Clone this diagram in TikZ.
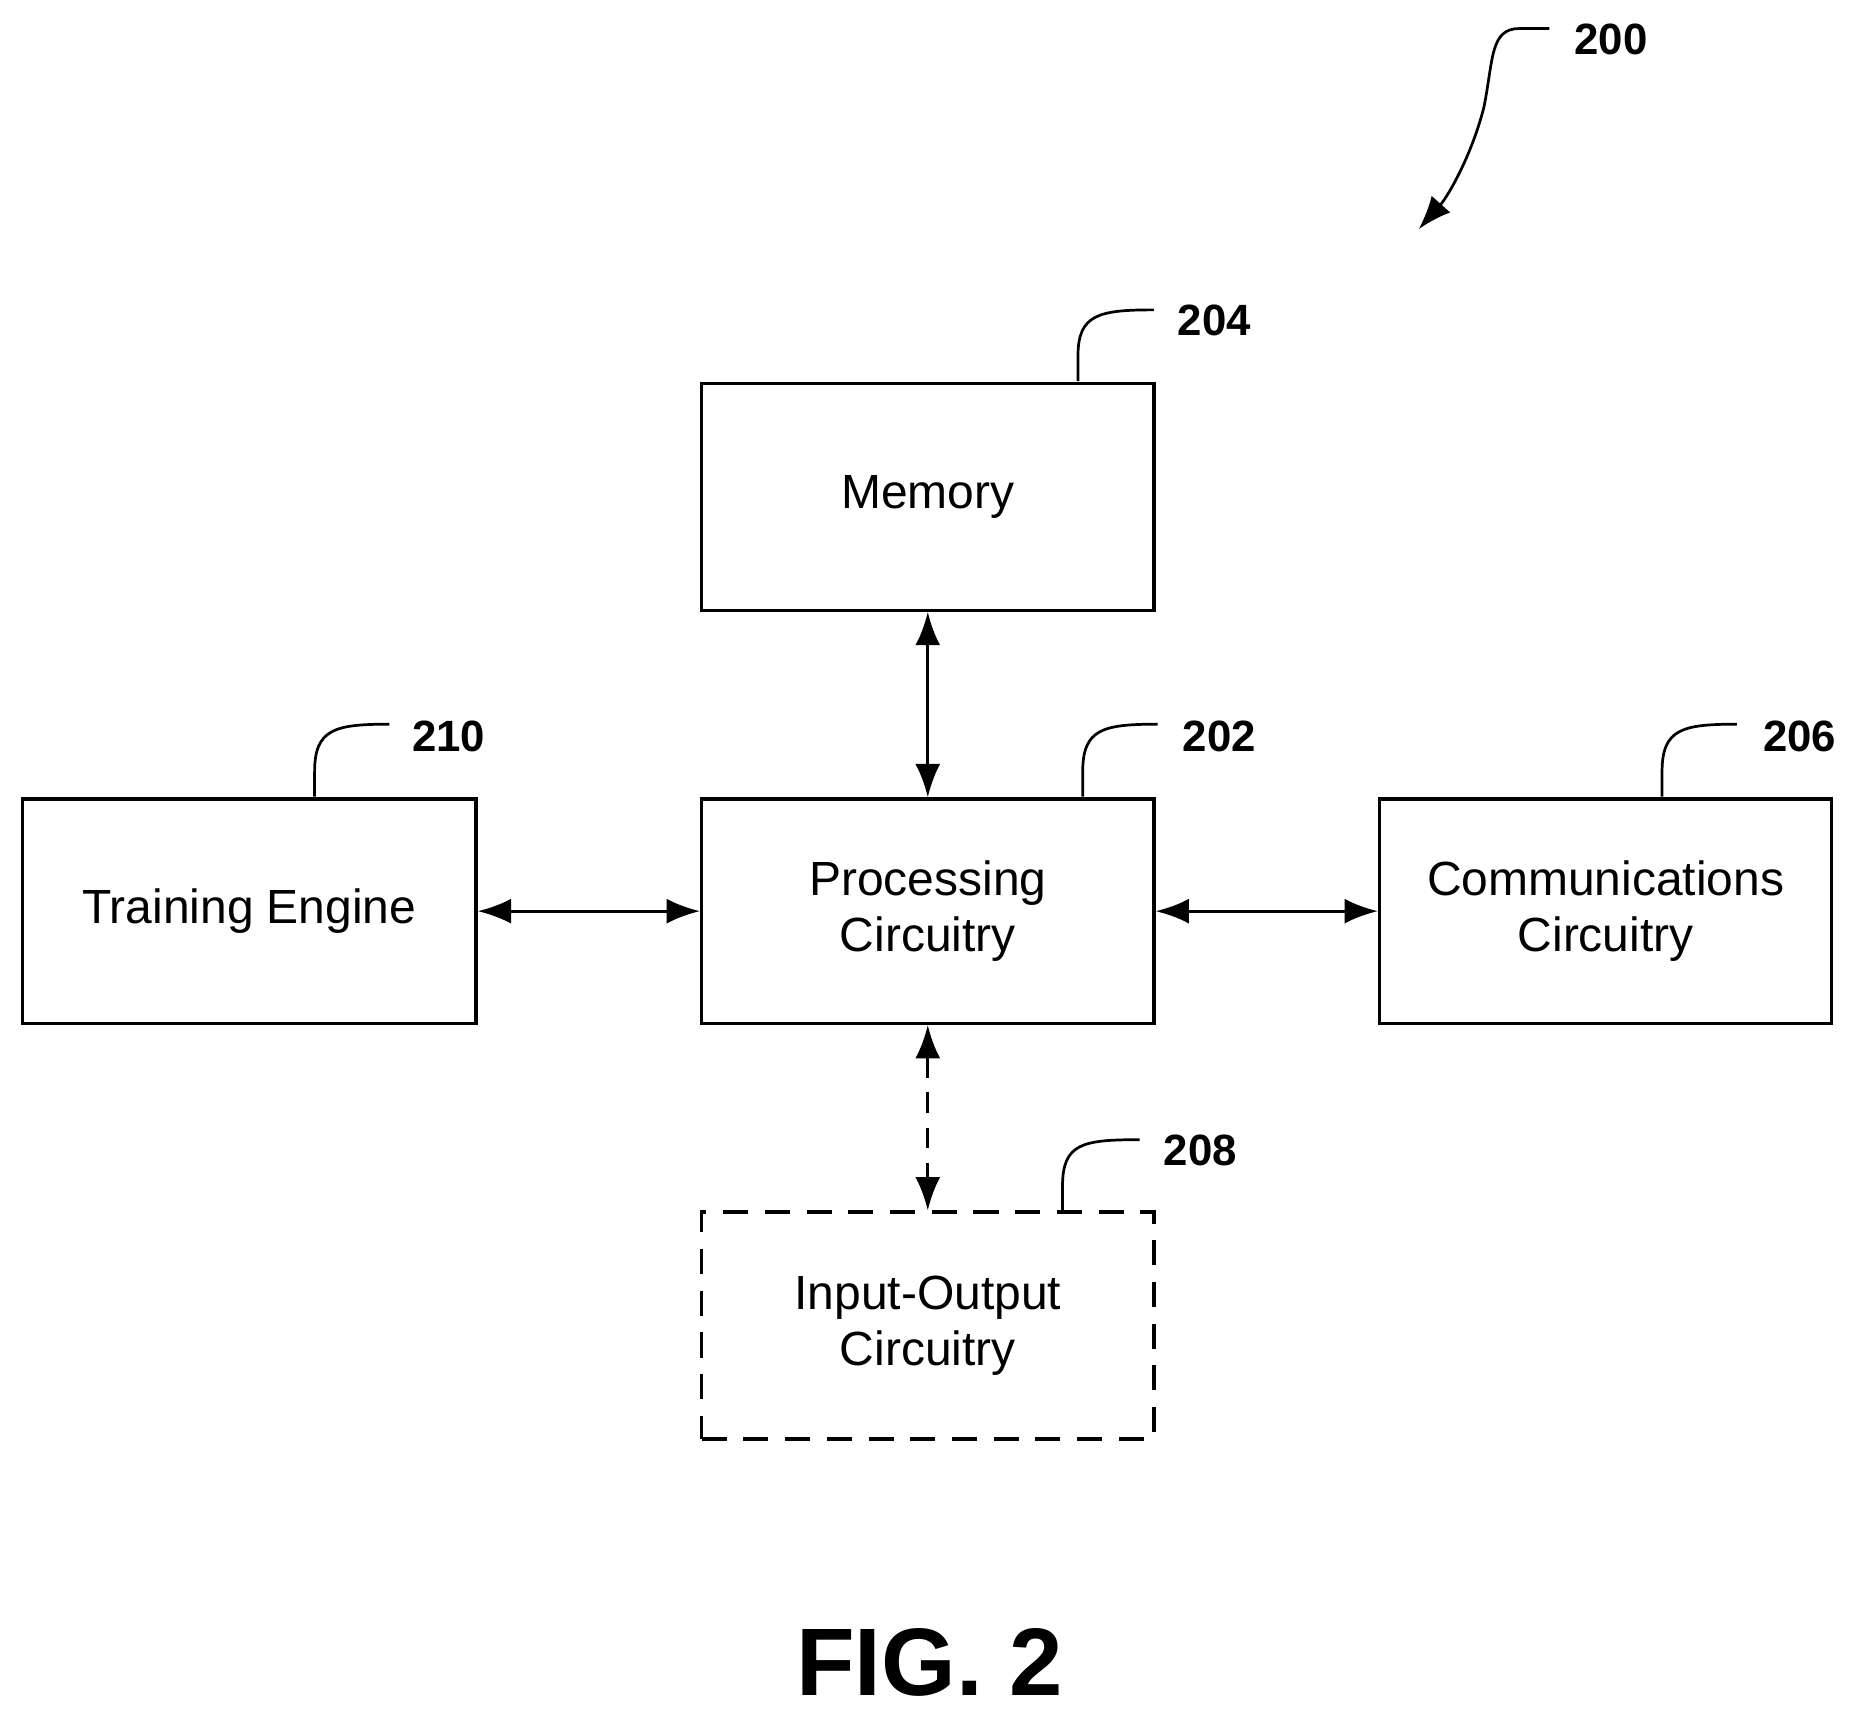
\documentclass[tikz,border=0pt]{standalone}
\usepackage{fontspec}
\setmainfont{Liberation Sans}
\usetikzlibrary{arrows.meta}
\begin{document}
\begin{tikzpicture}[x=0.02cm,y=-0.02cm,
  box/.style={draw,line width=1.6pt,inner sep=0pt},
  lbl/.style={font=\fontsize{23}{27}\selectfont,align=center},
  num/.style={font=\fontsize{21}{24}\selectfont\bfseries},
  lead/.style={line width=1.3pt},
  dbl/.style={line width=1.6pt,{Latex[length=16pt,width=12pt]}-{Latex[length=16pt,width=12pt]}}]
\useasboundingbox (0,0) rectangle (1560,1444);
\node[box,minimum width=7.62cm,minimum height=3.82cm] (mem) at (781.5,418.5) {};
\node[lbl] at (mem) {Memory};
\node[box,minimum width=7.62cm,minimum height=3.78cm] (proc) at (781.5,767.5) {};
\node[lbl] at (proc) {Processing\\Circuitry};
\node[box,minimum width=7.64cm,minimum height=3.78cm] (train) at (210,767.5) {};
\node[lbl] at (train) {Training Engine};
\node[box,minimum width=7.62cm,minimum height=3.78cm] (comm) at (1352.5,767.5) {};
\node[lbl] at (comm) {Communications\\Circuitry};
\node[box,dashed,dash pattern=on 12pt off 8pt,minimum width=7.62cm,minimum height=3.82cm] (io) at (781.5,1116.5) {};
\node[lbl] at (io) {Input-Output\\Circuitry};
\draw[dbl] (mem.south) -- (proc.north);
\draw[dbl] (train.east) -- (proc.west);
\draw[dbl] (proc.east) -- (comm.west);
\draw[dbl,dashed,dash pattern=on 10pt off 7pt] (proc.south) -- (io.north);
% leaders
\coordinate (l204) at (908,321);
\draw[lead] (l204) -- (908,300) .. controls (908,265) and (925,261) .. (972,261);
\node[num] (n204) at (1023,270) {204};
\coordinate (l202) at (912,671);
\draw[lead] (l202) -- (912,650) .. controls (912,614) and (929,610) .. (975,610);
\node[num] (n202) at (1027,620) {202};
\coordinate (l206) at (1400,671);
\draw[lead] (l206) -- (1400,650) .. controls (1400,614) and (1417,610) .. (1463,610);
\node[num] (n206) at (1516,620) {206};
\coordinate (l210) at (265,671);
\draw[lead] (l210) -- (265,650) .. controls (265,614) and (282,610) .. (328,610);
\node[num] (n210) at (378,620) {210};
\coordinate (l208) at (895,1020);
\draw[lead] (l208) -- (895,999) .. controls (895,963) and (912,960) .. (960,960);
\node[num] (n208) at (1011,969) {208};
\coordinate (a200) at (1305,24);
\coordinate (b200) at (1195,193);
\draw[lead,-{Latex[length=16pt,width=12pt]}] (a200) -- (1280,24) .. controls (1255,24) and (1258,50) .. (1250,90) .. controls (1240,130) and (1220,165) .. (b200);
\node[num] (n200) at (1357,33) {200};
\node[font=\fontsize{46}{50}\selectfont\bfseries] (fig) at (783,1400) {FIG. 2};
\end{tikzpicture}
\end{document}
